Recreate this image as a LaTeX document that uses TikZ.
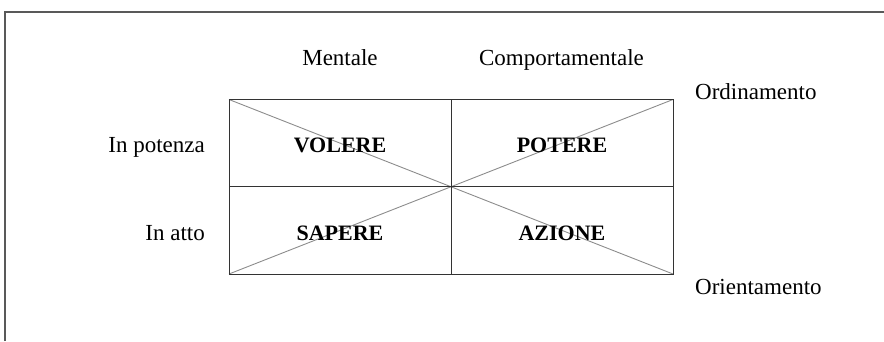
\documentclass[tikz,border=0pt]{standalone}
\usepackage{fontspec}
\setmainfont{Liberation Serif}
\begin{document}
\begin{tikzpicture}[x=1pt,y=-1pt,
  lbl/.style={inner sep=0pt,font=\fontsize{23}{27}\selectfont},
  cell/.style={inner sep=0pt,font=\fontsize{22}{26}\selectfont\bfseries},
  boxline/.style={draw=black!80,line width=1pt},
  diag/.style={draw=black!45,line width=0.9pt},
  frameline/.style={draw=black!65,line width=1.2pt}]
\useasboundingbox (0,0) rectangle (884,341);
% frame
\coordinate (fbl) at (5,341);
\coordinate (ftl) at (5,12);
\coordinate (ftr) at (884,12);
\draw[frameline] (fbl) -- (ftl) -- (ftr);
% grid corners
\coordinate (tl) at (229,99.5);
\coordinate (tr) at (673,99.5);
\coordinate (bl) at (229,274);
\coordinate (br) at (673,274);
\coordinate (tm) at (451,99.5);
\coordinate (bm) at (451,274);
\coordinate (ml) at (229,186.75);
\coordinate (mr) at (673,186.75);
\draw[diag] (tl) -- (br);
\draw[diag] (bl) -- (tr);
\draw[boxline] (tl) rectangle (br);
\draw[boxline] (tm) -- (bm);
\draw[boxline] (ml) -- (mr);
% cell labels
\node[cell,anchor=base] (volere) at (340,152) {VOLERE};
\node[cell,anchor=base] (potere) at (562,152) {POTERE};
\node[cell,anchor=base] (sapere) at (340,240) {SAPERE};
\node[cell,anchor=base] (azione) at (562,240) {AZIONE};
% headings
\node[lbl,anchor=base] (mentale) at (340,65) {Mentale};
\node[lbl,anchor=base] (comport) at (561.5,65) {Comportamentale};
\node[lbl,anchor=base east] (potenza) at (205,152) {In potenza};
\node[lbl,anchor=base east] (atto) at (205,240) {In atto};
\node[lbl,anchor=base west] (ordin) at (695,99) {Ordinamento};
\node[lbl,anchor=base west] (orient) at (695,294) {Orientamento};
\end{tikzpicture}
\end{document}
